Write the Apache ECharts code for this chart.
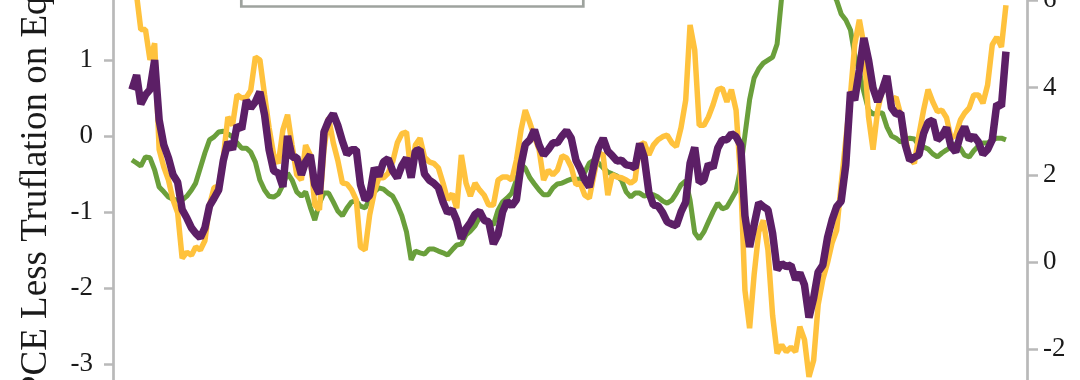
<!DOCTYPE html>
<html><head><meta charset="utf-8">
<script src="https://cdn.jsdelivr.net/npm/echarts@6/dist/echarts.min.js"></script>
<style>html,body{margin:0;padding:0;background:#fff}#c{width:1080px;height:380px}</style>
</head><body><div id="c"></div>
<script>
// Monthly dates, Jan 2010 .. Dec 2025
const months = [];
for (let y = 2010; y <= 2025; y++) for (let m = 1; m <= 12; m++) months.push(y + '-' + String(m).padStart(2, '0') + '-01');

// left axis series
const yellowValues = [
  2.2, 1.85, 1.40, 1.40, 1.00, 1.22, -0.18, -0.41, -0.58, -0.84,
  -1.01, -1.61, -1.53, -1.57, -1.46, -1.50, -1.38, -0.91, -0.68, -0.66,
  -0.28, 0.25, 0.14, 0.54, 0.50, 0.51, 0.60, 1.04, 1.00, 0.54,
  0.11, -0.25, -0.36, 0.08, 0.28, -0.12, -0.51, -0.58, -0.12, -0.25,
  -0.91, -0.97, -0.18, 0.24, -0.09, -0.32, -0.62, -0.63, -0.71, -0.84,
  -1.46, -1.50, -1.04, -0.74, -0.55, -0.55, -0.49, -0.34, -0.09, 0.03,
  0.05, -0.51, -0.12, -0.03, -0.28, -0.34, -0.36, -0.42, -0.62, -0.84,
  -0.76, -0.95, -0.25, -0.62, -0.79, -0.62, -0.71, -0.78, -0.91, -0.91,
  -0.58, -0.54, -0.54, -0.58, -0.32, 0.08, 0.34, 0.17, -0.01, -0.18,
  -0.58, -0.45, -0.51, -0.45, -0.26, -0.29, -0.41, -0.64, -0.62, -0.78,
  -0.82, -0.51, -0.22, -0.25, -0.78, -0.51, -0.54, -0.55, -0.58, -0.62,
  -0.58, -0.12, -0.09, -0.25, -0.12, -0.05, -0.01, 0.01, -0.09, -0.14,
  0.11, 0.47, 1.46, 1.13, 0.14, 0.14, 0.25, 0.41, 0.61, 0.63,
  0.45, 0.61, 0.34, -0.58, -2.03, -2.53, -1.83, -1.26, -1.11, -1.50,
  -2.36, -2.86, -2.75, -2.84, -2.78, -2.84, -2.51, -2.68, -3.17, -2.95,
  -2.22, -1.89, -1.67, -1.41, -1.24, -0.64, -0.05, 0.54, 1.20, 1.53,
  1.20, 0.25, -0.18, 0.34, 0.61, 0.64, 0.47, 0.51, 0.28, -0.03,
  -0.29, -0.36, 0.01, 0.34, 0.61, 0.45, 0.32, 0.34, 0.24, -0.03,
  0.01, 0.21, 0.30, 0.37, 0.54, 0.54, 0.43, 0.67, 1.20, 1.30,
  1.17, 1.72
];
const purpleValues = [
  0.61, 0.80, 0.42, 0.54, 0.61, 1.00, 0.21, -0.12, -0.29, -0.51,
  -0.61, -0.97, -1.08, -1.21, -1.28, -1.34, -1.21, -0.92, -0.82, -0.71,
  -0.32, -0.08, -0.18, 0.14, 0.09, 0.47, 0.37, 0.45, 0.58, 0.28,
  -0.18, -0.46, -0.49, -0.67, 0.00, -0.28, -0.28, -0.51, -0.34, -0.25,
  -0.64, -0.76, 0.05, 0.20, 0.29, 0.14, -0.07, -0.24, -0.18, -0.18,
  -0.64, -0.84, -0.78, -0.42, -0.53, -0.34, -0.30, -0.46, -0.55, -0.39,
  -0.29, -0.55, -0.20, -0.18, -0.50, -0.58, -0.62, -0.68, -0.87, -1.01,
  -0.97, -1.11, -1.35, -1.22, -1.14, -1.03, -0.99, -1.11, -1.13, -1.42,
  -1.30, -1.00, -0.86, -0.92, -0.84, -0.38, -0.11, -0.05, 0.08, -0.12,
  -0.25, -0.18, -0.09, -0.09, 0.00, 0.07, -0.03, -0.32, -0.43, -0.58,
  -0.67, -0.38, -0.16, -0.03, -0.20, -0.26, -0.33, -0.32, -0.38, -0.39,
  -0.42, -0.10, -0.28, -0.74, -0.91, -0.92, -1.01, -1.13, -1.16, -1.18,
  -1.00, -0.87, -0.36, -0.15, -0.61, -0.58, -0.37, -0.42, -0.16, -0.05,
  -0.05, 0.03, -0.01, -0.12, -1.05, -1.46, -1.17, -0.88, -0.93, -0.97,
  -1.28, -1.76, -1.68, -1.72, -1.70, -1.89, -1.80, -1.96, -2.39, -2.13,
  -1.79, -1.70, -1.34, -1.11, -0.93, -0.86, -0.38, 0.58, 0.47, 0.87,
  1.29, 1.00, 0.63, 0.45, 0.61, 0.79, 0.37, 0.29, 0.30, -0.12,
  -0.32, -0.28, -0.25, 0.03, 0.18, 0.21, -0.05, 0.00, 0.11, -0.14,
  -0.21, 0.01, 0.12, -0.05, 0.00, -0.08, -0.24, -0.18, -0.05, 0.42,
  0.39, 1.11
];
// right axis series
const greenValues = [
  2.34, 2.27, 2.20, 2.41, 2.39, 2.11, 1.72, 1.61, 1.49, 1.44,
  1.42, 1.42, 1.51, 1.65, 1.81, 2.16, 2.50, 2.80, 2.87, 2.98,
  3.00, 2.94, 2.87, 2.73, 2.61, 2.61, 2.52, 2.29, 1.88, 1.65,
  1.51, 1.49, 1.56, 1.77, 2.04, 1.88, 1.61, 1.51, 1.61, 1.26,
  0.96, 1.35, 1.58, 1.58, 1.38, 1.17, 1.06, 1.24, 1.38, 1.40,
  1.28, 1.24, 1.44, 1.61, 1.70, 1.67, 1.58, 1.51, 1.31, 1.06,
  0.69, 0.05, 0.25, 0.21, 0.18, 0.30, 0.30, 0.25, 0.21, 0.16,
  0.28, 0.39, 0.41, 0.62, 0.71, 0.83, 1.03, 0.96, 0.92, 0.85,
  1.19, 1.38, 1.47, 1.58, 1.88, 2.25, 2.15, 1.93, 1.79, 1.65,
  1.54, 1.54, 1.70, 1.79, 1.81, 1.86, 1.90, 1.90, 1.90, 2.06,
  2.27, 2.34, 2.27, 2.16, 2.06, 2.02, 1.97, 1.88, 1.61, 1.49,
  1.58, 1.58, 1.51, 1.54, 1.54, 1.49, 1.40, 1.35, 1.42, 1.58,
  1.77, 1.86, 1.42, 0.67, 0.53, 0.69, 0.92, 1.15, 1.35, 1.22,
  1.26, 1.44, 1.63, 2.16, 2.91, 3.72, 4.22, 4.43, 4.56, 4.63,
  4.70, 5.00, 6.10, 6.20, 6.30, 6.60, 6.80, 6.40, 6.50, 7.00,
  6.50, 6.40, 6.40, 6.20, 6.00, 5.69, 5.55, 5.32, 4.75, 4.36,
  3.90, 3.49, 3.39, 3.42, 3.42, 3.10, 2.89, 2.84, 2.75, 2.80,
  2.84, 2.82, 2.68, 2.64, 2.59, 2.48, 2.41, 2.50, 2.57, 2.64,
  2.71, 2.61, 2.45, 2.41, 2.55, 2.66, 2.73, 2.73, 2.80, 2.84,
  2.84, 2.80
];
const leftTicks = [-3, -2, -1, 0, 1];
const rightTicks = [-2, 0, 2, 4, 6];
const leftAxisName = 'PCE Less Truflation on Equities';

const pair = (vals) => months.map((d, i) => [d, vals[i]]);

const FONT = '"Liberation Serif", "Times New Roman", serif';
const AXIS_COLOR = '#b9b9b9';
const chart = echarts.init(document.getElementById('c'), null, { renderer: 'canvas' });
chart.setOption({
  animation: false,
  backgroundColor: '#ffffff',
  grid: { left: 113, right: 53, top: 0, bottom: 0, containLabel: false, outerBoundsMode: 'none' },
  xAxis: { type: 'time', min: '2009-08-28', max: '2026-04-20', show: false },
  yAxis: [
    {
      type: 'value', position: 'left', min: -3.211, max: 1.789,
      axisLine: { show: true, lineStyle: { color: AXIS_COLOR, width: 2.7 } },
      axisTick: { show: true, length: 9, customValues: leftTicks, lineStyle: { color: AXIS_COLOR, width: 2.5 } },
      axisLabel: { margin: 20, color: '#1a1a1a', fontSize: 27, fontFamily: FONT, customValues: leftTicks },
      splitLine: { show: false }
    },
    {
      type: 'value', position: 'right', min: -2.706, max: 6.009,
      axisLine: { show: true, lineStyle: { color: AXIS_COLOR, width: 2.7 } },
      axisTick: { show: true, length: 11, customValues: rightTicks, lineStyle: { color: AXIS_COLOR, width: 2.5 } },
      axisLabel: { margin: 16, color: '#1a1a1a', fontSize: 27, fontFamily: FONT, customValues: rightTicks, align: 'left' },
      splitLine: { show: false }
    }
  ],
  graphic: [
    {
      type: 'rect', shape: { x: 241.3, y: -60, width: 342, height: 66.5 },
      style: { fill: null, stroke: '#9ea39e', lineWidth: 2.7 }, silent: true
    },
    {
      type: 'text', x: 36, y: 396, rotation: Math.PI / 2,
      style: { text: leftAxisName, font: '37px ' + FONT, fill: '#1a1a1a', textAlign: 'left', verticalAlign: 'middle' },
      silent: true
    }
  ],
  series: [
    { name: 'PCE', type: 'line', yAxisIndex: 1, data: pair(greenValues), symbol: 'none', lineStyle: { color: '#6a9f3b', width: 5 }, itemStyle: { color: '#6a9f3b' } },
    { name: 'Series A', type: 'line', yAxisIndex: 0, data: pair(yellowValues), symbol: 'none', lineStyle: { color: '#ffc23d', width: 5.5 }, itemStyle: { color: '#ffc23d' } },
    { name: 'Series B', type: 'line', yAxisIndex: 0, data: pair(purpleValues), symbol: 'none', lineStyle: { color: '#5c1f66', width: 7.5 }, itemStyle: { color: '#5c1f66' } }
  ]
});
</script></body></html>
